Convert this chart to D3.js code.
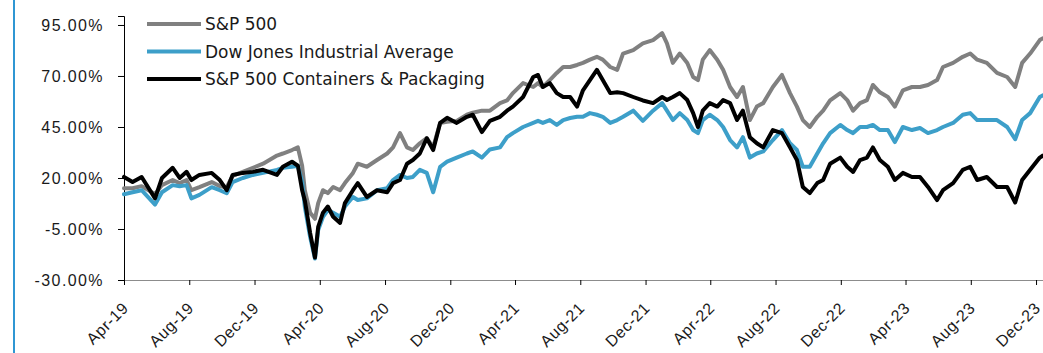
<!DOCTYPE html>
<html>
<head>
<meta charset="utf-8">
<script src="https://cdn.jsdelivr.net/npm/d3@7"></script>
<style>
  body { margin: 0; background: #fff; }
  svg { display: block; font-family: 'DejaVu Sans', sans-serif; }
</style>
</head>
<body>
<div id="chart"></div>
<script>
// data, roughly every two weeks
const dates = [
  '2019-04-01', '2019-04-17', '2019-05-04', '2019-05-29', '2019-06-11', '2019-07-01', '2019-07-14', '2019-07-27', '2019-08-05',
  '2019-08-20', '2019-09-12', '2019-09-27', '2019-10-10', '2019-10-21', '2019-11-09', '2019-11-28', '2019-12-17',
  '2020-01-12', '2020-01-23', '2020-02-09', '2020-02-20', '2020-02-28', '2020-03-04', '2020-03-14', '2020-03-23', '2020-03-29',
  '2020-04-07', '2020-04-16', '2020-04-26', '2020-05-09', '2020-05-18', '2020-06-02', '2020-06-11', '2020-06-28', '2020-07-17',
  '2020-08-05', '2020-08-16', '2020-08-29', '2020-09-11', '2020-09-22', '2020-10-05', '2020-10-18', '2020-10-30', '2020-11-12',
  '2020-11-25', '2020-12-13',
  '2021-01-01', '2021-01-12', '2021-01-29', '2021-02-13', '2021-03-04', '2021-03-17', '2021-03-28', '2021-04-16', '2021-05-05',
  '2021-05-14', '2021-05-23', '2021-06-05', '2021-06-18', '2021-06-30', '2021-07-13', '2021-07-26', '2021-08-06', '2021-08-19',
  '2021-09-01', '2021-09-12', '2021-09-26', '2021-10-09', '2021-10-20', '2021-11-08', '2021-11-26', '2021-12-15',
  '2022-01-01', '2022-01-10', '2022-01-21', '2022-02-03', '2022-02-17', '2022-02-28', '2022-03-09', '2022-03-18', '2022-03-31',
  '2022-04-14', '2022-04-25', '2022-05-08', '2022-05-21', '2022-06-01', '2022-06-14', '2022-06-27', '2022-07-09', '2022-07-27',
  '2022-08-13', '2022-08-28', '2022-09-10', '2022-09-21', '2022-10-04', '2022-10-18', '2022-10-29', '2022-11-11', '2022-11-30',
  '2022-12-13', '2022-12-24',
  '2023-01-06', '2023-01-19', '2023-01-30', '2023-02-12', '2023-02-27', '2023-03-12', '2023-03-27', '2023-04-13', '2023-04-28',
  '2023-05-13', '2023-05-30', '2023-06-10', '2023-06-29', '2023-07-17', '2023-07-31', '2023-08-13', '2023-08-31', '2023-09-19',
  '2023-10-08', '2023-10-23', '2023-11-05', '2023-11-20', '2023-12-08', '2023-12-14'
];

const sp500 = [
  15, 15, 16, 12, 16.5, 19, 17.5, 19, 14, 15.5, 18, 16, 15.5, 21, 23, 25, 27,
  31, 32, 33.7, 35, 26, 14, 3, 0, 7.7, 14, 12.6, 15.6, 14, 17.5, 22.5, 27, 25.5, 28.8,
  32, 35, 42, 35, 33.7, 37, 39.5, 35, 47, 47.5, 48,
  51, 52, 53, 53, 56.7, 58, 61.6, 66.5, 64.6, 66.5, 64.6, 68, 71.5, 74.4, 74.4, 75.4, 76.4, 78,
  79.4, 78, 74.4, 73, 81, 82.7, 86, 87.6,
  91, 86, 76.4, 81, 76.4, 69.5, 68, 78, 82.7, 78, 73, 64.6, 59.7, 64.6, 48.4, 55, 56.7, 64.6,
  70.5, 61.6, 55, 48.4, 45, 50, 53, 58, 61.6, 58.2, 53,
  56.7, 58.2, 65.6, 62, 59.7, 55, 63, 64.6, 64.6, 65.6, 68, 74.4, 76.4, 79.4, 81, 78, 76.4, 71.5,
  69.5, 64.6, 76.4, 81, 87.6, 88.5
];

const djia = [
  12, 13, 14, 7, 13, 16.5, 16, 16.5, 10, 11.7, 15.5, 14, 12.5, 18, 20, 21.5, 22.5,
  24, 25, 25.5, 26, 18, 6, -9, -19.5, -5.5, 1, 4.3, 3, 1, 6, 10.7, 9.2, 10, 14,
  15, 19, 21.5, 20, 20.5, 24, 22.5, 13, 25.5, 28, 30,
  32, 33, 30, 34, 35, 40, 42, 45, 47, 48, 47, 48.4, 46, 48.4, 49.4, 50, 50, 51.8,
  51, 50, 47, 48.4, 50, 53, 48, 53,
  56.7, 53, 48.4, 51.8, 48.4, 43.5, 42, 48.4, 51, 48.4, 45, 38.6, 35, 40, 30, 32, 33, 38.6,
  43.5, 37, 33.7, 25.5, 25.5, 32, 37, 42, 46, 43.5, 42,
  45, 45, 46, 43.5, 43.5, 37.6, 45, 43.5, 44.5, 42, 43.5, 45, 47, 51, 51.8, 48.4, 48.4, 48.4,
  45, 39, 48.4, 51.8, 59.7, 60.5
];

const containers = [
  20.5, 18, 20.5, 10, 20, 25, 20, 23, 19, 21.5, 22.5, 19, 14, 21.5, 22.5, 23, 24,
  21.5, 25.5, 28, 26, 14, 9, -7, -19, -4, 3, 6, 1, -2, 7.7, 14, 17.5, 10.7, 14,
  13, 17.5, 19, 27, 28.8, 32, 39.5, 33.7, 47, 49.5, 47,
  50, 51, 42.5, 48, 50, 53, 55, 59.7, 69.5, 70.5, 64.6, 66.5, 61.6, 59.7, 59.7, 55, 63, 68,
  73, 68, 61.6, 62, 61.6, 59.7, 58, 56.7,
  59.7, 58.2, 59.7, 61.6, 58.2, 51.8, 45, 53, 56.7, 55, 58.2, 56.7, 48.4, 53, 40, 37, 35, 43.5,
  42, 35, 28.8, 15.6, 12.6, 17.5, 19, 27, 30, 25.5, 23,
  28.8, 30, 35, 28.8, 25.5, 19, 22.5, 20.5, 20.5, 15.6, 9.2, 14, 17.5, 24, 25.5, 19, 20.5, 15.6,
  15.6, 8, 19, 24, 30, 31
];

const seriesNames = ['S&P 500', 'Dow Jones Industrial Average', 'S&P 500 Containers & Packaging'];
const seriesColors = ['#808080', '#3d9fc9', '#000000'];
const yTicks = [-30, -5, 20, 45, 70, 95];
const xTickDates = ['2019-04-01', '2019-08-01', '2019-12-01', '2020-04-01', '2020-08-01', '2020-12-01', '2021-04-01',
  '2021-08-01', '2021-12-01', '2022-04-01', '2022-08-01', '2022-12-01', '2023-04-01', '2023-08-01', '2023-12-01'];

const W = 1043;
const H = 353;
const parse = d3.timeParse('%Y-%m-%d');

const svg = d3.select('#chart').append('svg')
  .attr('width', W)
  .attr('height', H);

// blue frame line on the left edge
svg.append('line')
  .attr('x1', 14).attr('x2', 14)
  .attr('y1', 0).attr('y2', H)
  .style('stroke', '#2f96d3')
  .style('stroke-width', 2);

const x = d3.scaleTime()
  .domain([parse('2019-04-01'), parse('2023-12-14')])
  .range([124, 1043]);

const y = d3.scaleLinear()
  .domain([-30, 99.4])
  .range([280, 16]);

// y axis
const yAxis = d3.axisLeft(y)
  .tickValues(yTicks)
  .tickSize(6)
  .tickFormat(d => `${d.toFixed(2)}%`);

const gy = svg.append('g')
  .attr('transform', 'translate(124,0)')
  .call(yAxis);

gy.select('.domain').attr('stroke', '#000');
gy.selectAll('.tick line').attr('stroke', '#000');
gy.selectAll('.tick text')
  .attr('x', -20)
  .style('font-size', '16px')
  .style('letter-spacing', '1.4px')
  .style('fill', '#1a1a1a');

// x axis
const xAxis = d3.axisBottom(x)
  .tickValues(xTickDates.map(parse))
  .tickSize(5)
  .tickSizeOuter(0)
  .tickFormat(d3.timeFormat('%b-%y'));

const gx = svg.append('g')
  .attr('transform', 'translate(0,280)')
  .call(xAxis);

gx.select('.domain').attr('stroke', '#8c8c8c');
gx.selectAll('.tick line').attr('stroke', '#000');
gx.selectAll('.tick text')
  .attr('text-anchor', 'end')
  .attr('dy', null)
  .attr('y', null)
  .attr('transform', 'translate(5,29) rotate(-45)')
  .style('font-size', '16px')
  .style('letter-spacing', '0.6px')
  .style('fill', '#1a1a1a');

// lines
const allSeries = [sp500, djia, containers];

const line = d3.line()
  .x((d, i) => x(parse(dates[i])))
  .y(d => y(d));

svg.selectAll('.series')
  .data(allSeries)
  .enter()
  .append('path')
  .attr('class', 'series')
  .attr('d', line)
  .style('fill', 'none')
  .style('stroke', (d, i) => seriesColors[i])
  .style('stroke-width', 4)
  .style('stroke-linejoin', 'round')
  .style('stroke-linecap', 'round');

// legend
const legend = svg.append('g')
  .selectAll('g')
  .data(seriesNames)
  .enter()
  .append('g')
  .attr('transform', (d, i) => `translate(147, ${24 + i * 27.5})`);

legend.append('line')
  .attr('x1', 0).attr('x2', 54)
  .style('stroke', (d, i) => seriesColors[i])
  .style('stroke-width', 4);

legend.append('text')
  .attr('x', 58)
  .attr('y', 6)
  .style('font-size', '17px')
  .style('fill', '#1a1a1a')
  .text(d => d);
</script>
</body>
</html>
